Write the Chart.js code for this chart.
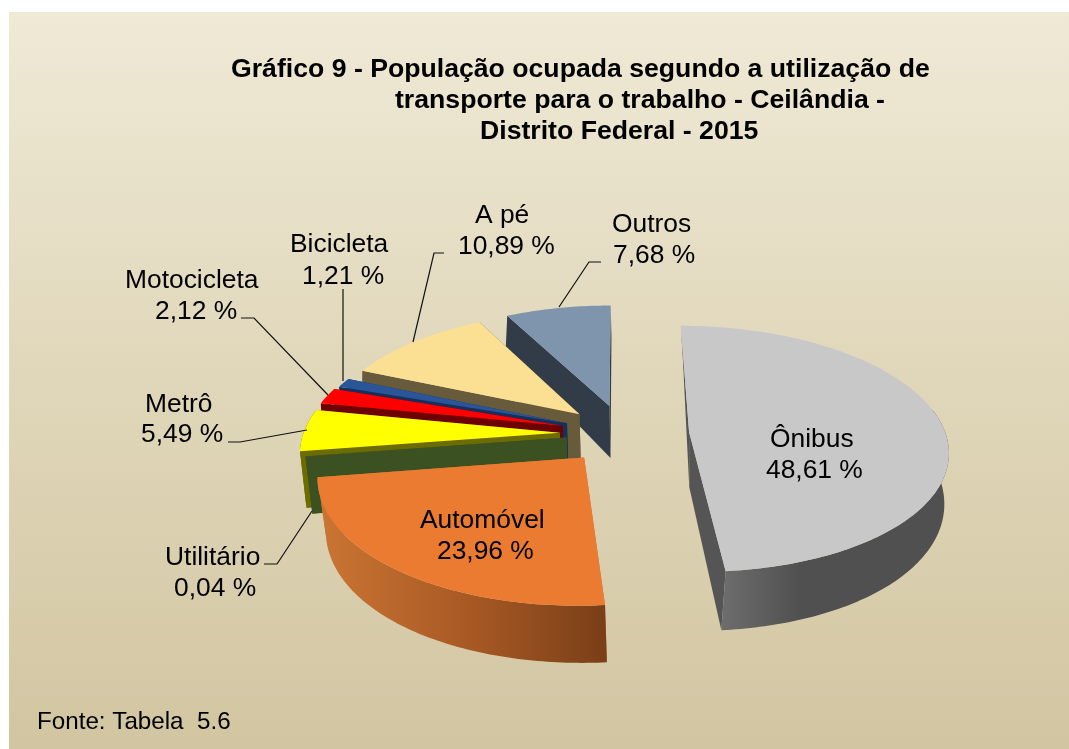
<!DOCTYPE html>
<html><head><meta charset="utf-8">
<style>html,body{margin:0;padding:0;background:#fff}canvas{display:block}</style>
<script src="https://cdn.jsdelivr.net/npm/chart.js@4"></script>
</head><body>
<canvas id="c" width="1069" height="749"></canvas>
<script>
const categories = ['Ônibus','Automóvel','Utilitário','Metrô','Motocicleta','Bicicleta','A pé','Outros'];
const values = [48.61,23.96,0.04,5.49,2.12,1.21,10.89,7.68];
const titleLines = ['Gráfico 9 - População ocupada segundo a utilização de','transporte para o trabalho - Ceilândia -','Distrito Federal - 2015'];
const sourceNote = 'Fonte: Tabela  5.6';

// styles
const topColors = ['#c8c8c8','#ea7b30','#4f6228','#ffff00','#ff0000','#2a5599','#fbe093','#7f95ae'];
const wallColors = [['#6e6e6e','#525252','#505050'],['#c97433','#a95a24','#7a3f18'],['#3c5122'],['#6c6c00'],['#6e0000'],['#16305c'],['#675b3c'],['#323c48']];
const offsets = [25.5,24.5,22.5,25,25,24,24,24];
const paintOrder = [7,0,6,5,4,3,2,1];
// label placement: x of each line, baseline of each line
const labelPlaces = [[770,766,447,478],[420,437,528,559],[165,174,565,596],[145,141,412,442],[125,155,288,319],[290,302,252,284],[475,458,223,254],[612,613,232,263]];
const leaders = [[[241,318],[254,318],[328,395]],[[228,442],[240,442],[307,430]],[[264,564],[277,564],[312,511]],[[343,289],[343,381]],[[444,253],[434,253],[413,342]],[[601,262],[589,262],[559,307]]];

// perspective of the pie's top and bottom planes
const topPlane = {x0:620,y0:432,fx:256,fy:120.7,px:.1354,py:.1354};
const botPlane = {x0:621,y0:487,fx:253,fy:133.4,px:.10,py:.0716};
function proj(pl,u,v){return [pl.x0+pl.fx*u/(1-pl.px*v),pl.y0+pl.fy*v/(1-pl.py*v)];}

function arcAngles(a0,a1){
  const out=[],n=Math.max(2,Math.ceil((a1-a0)/(Math.PI/180)));
  for(let i=0;i<=n;i++)out.push(a0+(a1-a0)*i/n);
  return out;
}
function fillPoly(ctx,pts,style){
  ctx.beginPath();pts.forEach((p,i)=>i?ctx.lineTo(p[0],p[1]):ctx.moveTo(p[0],p[1]));
  ctx.closePath();ctx.fillStyle=style;ctx.fill();
}
const pie3d = {
  id:'pie3d',
  beforeDraw(chart){
    const {ctx}=chart;
    ctx.save();
    ctx.fillStyle='#fff';ctx.fillRect(0,0,1069,749);
    const g=ctx.createLinearGradient(0,12,0,749);
    g.addColorStop(0,'#efe9d6');g.addColorStop(.5,'#e0d7ba');g.addColorStop(1,'#d2c5a1');
    ctx.fillStyle=g;ctx.fillRect(9,12,1060,737);
    ctx.restore();
  },
  beforeDatasetsDraw(chart){
    const {ctx}=chart;const arcs=chart.getDatasetMeta(0).data;
    ctx.save();
    paintOrder.forEach(i=>{
      const a=arcs[i],s=a.startAngle,e=a.endAngle,m=(s+e)/2,ex=a.options.offset/100;
      const mx=.015+ex*Math.cos(m),my=.012+ex*Math.sin(m);
      const tA=proj(topPlane,mx,my),bA=proj(botPlane,mx,my);
      const angs=arcAngles(s,e);
      const pt=(pl,t)=>proj(pl,mx+Math.cos(t),my+Math.sin(t));
      const tArc=angs.map(t=>pt(topPlane,t));
      const front=angs.filter(t=>Math.sin(t)>-.2);
      const wc=wallColors[i];
      let wall=wc[0];
      if(i===0){const g2=ctx.createLinearGradient(720,0,800,0);g2.addColorStop(0,wc[0]);g2.addColorStop(1,wc[2]);wall=g2;}
      else if(i===1){
        const gr=ctx.createLinearGradient(325,0,605,0);
        wc.forEach((c,k)=>gr.addColorStop(k/(wc.length-1),c));wall=gr;
      }
      const cut=i===0?'#555555':wc[0];
      fillPoly(ctx,[tA,pt(topPlane,s),pt(botPlane,s),bA],cut);
      fillPoly(ctx,[tA,pt(topPlane,e),pt(botPlane,e),bA],cut);
      if(front.length>1)fillPoly(ctx,front.map(t=>pt(topPlane,t)).concat(front.slice().reverse().map(t=>pt(botPlane,t))),wall);
      fillPoly(ctx,[tA].concat(tArc),a.options.backgroundColor);
    });
    ctx.restore();
    return false;
  },
  afterDraw(chart){
    const {ctx}=chart;
    ctx.save();
    ctx.strokeStyle='#111';ctx.lineWidth=1.2;
    leaders.forEach(l=>{ctx.beginPath();l.forEach((p,i)=>i?ctx.lineTo(p[0],p[1]):ctx.moveTo(p[0],p[1]));ctx.stroke();});
    ctx.fillStyle='#000';ctx.textAlign='left';ctx.textBaseline='alphabetic';
    ctx.font='26.4px "Liberation Sans"';
    categories.forEach((c,i)=>{
      const lp=labelPlaces[i];
      ctx.fillText(c,lp[0],lp[2]);
      ctx.fillText(values[i].toFixed(2).replace('.',',')+' %',lp[1],lp[3]);
    });
    ctx.font='bold 26.65px "Liberation Sans"';
    ctx.fillText(titleLines[0],231,77);
    ctx.fillText(titleLines[1],395,108);
    ctx.fillText(titleLines[2],480,139);
    ctx.font='24.2px "Liberation Sans"';
    ctx.fillText(sourceNote,37,729);
    ctx.restore();
  }
};
new Chart(document.getElementById('c'),{
  type:'pie',
  data:{labels:categories,datasets:[{data:values,backgroundColor:topColors,offset:offsets,borderWidth:0}]},
  options:{responsive:false,animation:false,plugins:{legend:{display:false},tooltip:{enabled:false},title:{display:false}}},
  plugins:[pie3d]
});
</script>
</body></html>
